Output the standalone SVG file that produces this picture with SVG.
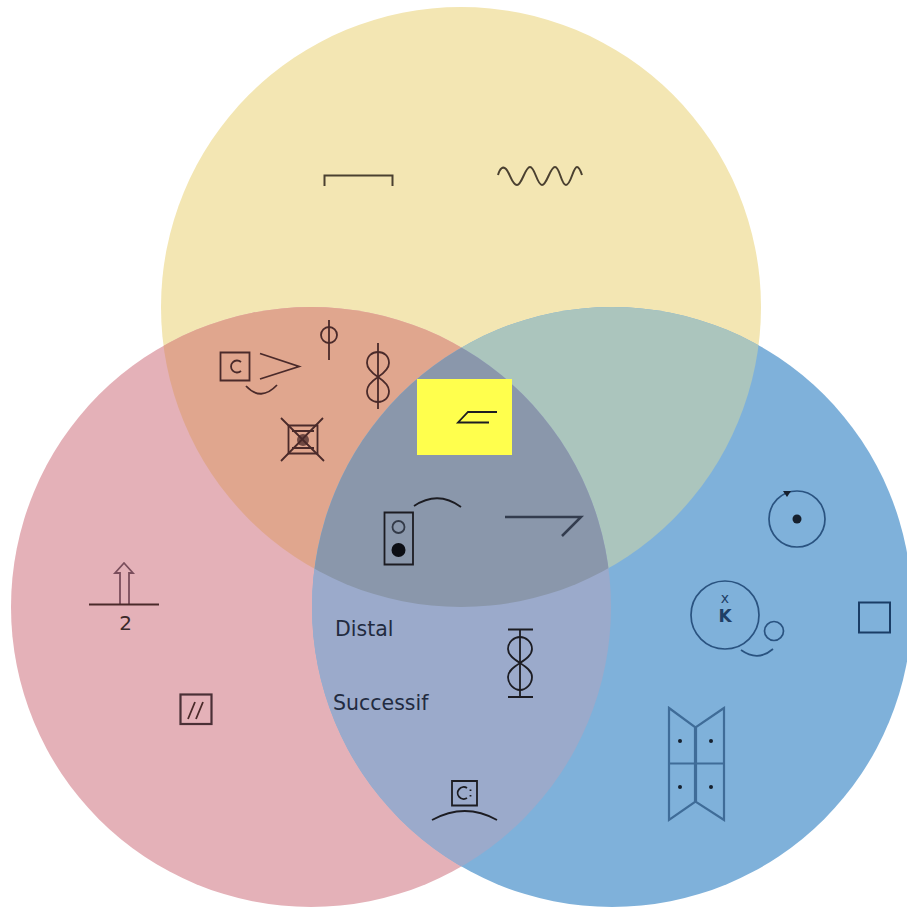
<svg xmlns="http://www.w3.org/2000/svg" width="907" height="909" viewBox="0 0 907 909">
<style>
.s{fill:none;stroke:#1c1c22;stroke-width:1.800}
.m{fill:none;stroke:#4a2a2a;stroke-width:1.800}
.b{fill:none;stroke:#2a5380;stroke-width:1.700}
.bb{fill:none;stroke:#3f6c98;stroke-width:2.200}
.d{fill:#16202e}
text{font-family:"DejaVu Sans",sans-serif}
</style>
<defs>
<clipPath id="cy"><circle cx="461" cy="307" r="300"/></clipPath>
<clipPath id="cp"><circle cx="311" cy="607" r="300"/></clipPath>
</defs>
<rect width="907" height="909" fill="#fff"/>
<g id="venn">
<circle id="circle-yellow" cx="461" cy="307" r="300" fill="#F3E6B3"/>
<circle id="circle-pink" cx="311" cy="607" r="300" fill="#E4B1B8"/>
<circle id="circle-blue" cx="612" cy="607" r="300" fill="#7FB1DA"/>
<g clip-path="url(#cy)"><circle cx="311" cy="607" r="300" fill="#E0A68E"/><circle cx="612" cy="607" r="300" fill="#ABC5BD"/></g>
<g clip-path="url(#cp)"><circle cx="612" cy="607" r="300" fill="#9BAACB"/></g>
<g clip-path="url(#cy)"><g clip-path="url(#cp)"><circle cx="612" cy="607" r="300" fill="#8A97AB"/></g></g>
</g>
<rect id="highlight" x="417" y="379" width="95" height="76" fill="#FFFF4D"/>
<g id="sym-bracket"><path d="M324.500 186V175.500H392.500V186" fill="none" stroke="#4a4030" stroke-width="2"/></g>
<g id="sym-wave"><path fill="none" stroke="#4a4030" stroke-width="2" d="M498 175C500 168 503 166 506 169C510 173 512 185 517 185C522 185 525 167 530 167C535 167 537 185 542 185C547 185 550 167 555 167C560 167 561 185 566 185C571 185 573 167 577 167C579 167 581 172 582 175"/></g>
<g id="sym-square-c"><path class="m" stroke-width="2.200" d="M220.500 352.500H249.500V380.500H220.500Z"/><path class="m" stroke-width="2.600" d="M241 362A6 6 0 1 0 241 371"/><path class="m" stroke-width="2" d="M260 353.500L299 366.500 260 379"/><path class="m" d="M246 386Q261 402 277 385"/></g>
<g id="sym-phi"><circle class="m" cx="329" cy="335" r="8"/><path class="m" stroke-width="2.400" d="M329 320V360"/></g>
<g id="sym-eight-a"><path class="m" d="M378 377C372 373 367 369 367 363C367 356 372 352 378 352C384 352 389 356 389 363C389 369 384 373 378 377C372 381 367 385 367 391C367 398 372 402 378 402C384 402 389 398 389 391C389 385 384 381 378 377Z"/><path class="m" d="M378 343V409"/></g>
<g id="sym-crossed"><path class="m" stroke-width="2.200" d="M288.500 425.500H317.500V453.500H288.500Z"/><path class="m" d="M281 418L324 461M323 418L281 461M292 431H314M292 448H314"/><circle cx="303" cy="440" r="6" fill="#4a2a2a" opacity=".75"/></g>
<g id="sym-yellow"><path class="s" d="M497 412H468L458 422.500H489"/></g>
<g id="sym-lights"><path class="s" d="M384.500 512.500H413V564.500H384.500Z"/><circle cx="398.500" cy="527" r="6" fill="none" stroke="#333a48" stroke-width="1.800"/><circle cx="398.500" cy="550" r="7" fill="#0c0e14"/><path class="s" d="M414 506Q438 490 461 507"/></g>
<g id="sym-hook"><path fill="none" stroke="#333c4e" stroke-width="2.500" d="M505 517H581L562 536"/></g>
<g id="sym-circle-dot"><circle class="b" cx="797" cy="519" r="28"/><circle class="d" cx="797" cy="519" r="4.500"/><path class="d" d="M783 491H791L787 497Z"/></g>
<g id="sym-k"><circle class="b" cx="725" cy="615" r="34"/><text x="725" y="603" font-size="14" text-anchor="middle" fill="#1f3f66">x</text><text x="725" y="622" font-size="17" font-weight="bold" text-anchor="middle" fill="#1f3f66">K</text><circle class="b" cx="774" cy="631" r="9.500"/><path class="b" d="M741 650Q758 662 773 649"/></g>
<g id="sym-square"><rect x="859" y="602.500" width="31" height="30" fill="none" stroke="#1a3d66" stroke-width="2"/></g>
<g id="sym-bowtie"><path class="bb" d="M669 708L695 727V802L669 820ZM724 708L696 727V802L724 820ZM668 763.500H725"/><g class="d"><circle cx="680" cy="741" r="2"/><circle cx="711" cy="741" r="2"/><circle cx="680" cy="787" r="2"/><circle cx="711" cy="787" r="2"/></g></g>
<g id="sym-eight-b"><path class="s" d="M520 663C514 659 508 655 508 649C508 642 514 637 520 637C526 637 532 642 532 649C532 655 526 659 520 663C514 667 508 671 508 677C508 684 514 690 520 690C526 690 532 684 532 677C532 671 526 667 520 663Z"/><path class="s" d="M520 629V697M508 629.500H533M508 697H533"/></g>
<g id="sym-square-c-b"><path class="s" d="M452 781H477V805.500H452Z"/><path class="s" stroke-width="2.200" d="M467 788A6 6 0 1 0 467 798M470.500 789.500V791M470.500 795V796.500"/><path class="s" d="M432 820Q465 802 497 820"/></g>
<g id="sym-arrow"><path fill="none" stroke="#7a4e5c" stroke-width="1.800" d="M120 604V573H115L124 563 133 573H129V604"/><path class="m" stroke="#5a4048" d="M89 604.500H159"/><text x="125.500" y="630" font-size="20" text-anchor="middle" fill="#3a2a2a">2</text></g>
<g id="sym-parallel"><rect x="180.500" y="694.500" width="31" height="29.500" fill="none" stroke="#4a3036" stroke-width="2.200"/><path class="m" stroke-width="2" d="M195 702L188 719M203 702L196 719"/></g>
<g id="labels"><text x="335" y="636" font-size="20.500" fill="#222b40">Distal</text><text x="333" y="710" font-size="20.500" fill="#222b40">Successif</text></g>
</svg>
